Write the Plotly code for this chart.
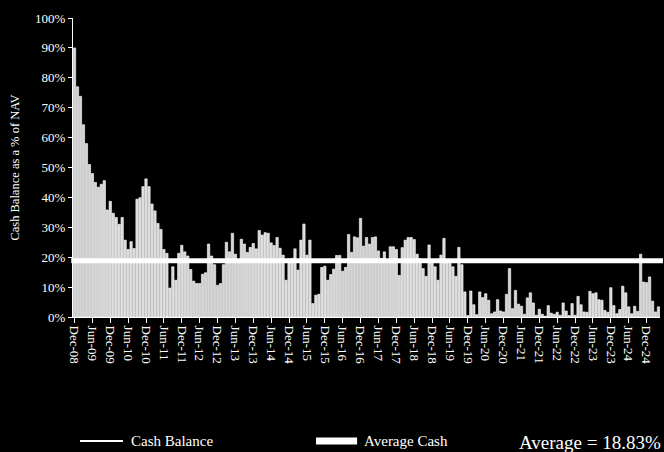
import pandas as pd
import plotly.graph_objects as go

# monthly cash balance, % of NAV, Dec-08 .. Apr-25
cash_pct = [
    90, 77, 73.8, 64.3, 58, 51, 48, 45, 43.4, 44.4, 45.6, 35.8,
    38.7, 34.7, 33.3, 31, 33.3, 25.7, 22.6, 25.2, 22.9, 39.4, 39.9, 43.6,
    46.2, 43.6, 37.8, 35.5, 31.3, 29.3, 22.6, 21.3, 9.7, 16.8, 12.3, 21.3,
    24, 21.8, 20.4, 15.9, 12, 11.2, 11.2, 14.3, 14.8, 24.4, 20.4, 17.5,
    10.6, 11.2, 17.5, 25, 21.8, 28, 21, 18.5, 26, 24.4, 21.6, 23.3,
    24.6, 22.8, 28.9, 27.4, 28.2, 28, 24.8, 23.9, 26.6, 23, 20.7, 12.3,
    19.4, 19.6, 22.8, 15.7, 25.7, 31.1, 20.7, 25.7, 4.5, 7.3, 7.6, 16.6,
    17, 12.3, 14.2, 16, 20.6, 20.6, 15.3, 16.6, 27.6, 21.6, 26.8, 26.5,
    33, 23.7, 26.6, 24.4, 26.6, 26.8, 22.1, 19.6, 21.8, 18, 23.5, 23.5,
    22.6, 13.9, 23.2, 25.7, 26.6, 26.6, 25.9, 21, 19.5, 16.2, 13.6, 24.1,
    19, 16.8, 12.3, 20.7, 26.3, 19.2, 18, 16.8, 13.6, 23.3, 17.5, 8.4,
    0.5, 8.7, 4.1, 0.8, 8.4, 6.5, 7.8, 5.6, 1.1, 1.7, 5.8, 2.0,
    1.7, 7.6, 16.2, 2.8, 8.9, 4.3, 3.6, 0.9, 6.4, 8.1, 4.7, 0.6,
    2.6, 0.9, 0.3, 3.8, 1.3, 0.9, 1.6, 0.6, 4.7, 2.0, 0.5, 4.5,
    0.6, 6.9, 4.1, 1.7, 1.6, 8.6, 7.8, 8.1, 5.8, 5.6, 2.2, 1.6,
    9.8, 3.8, 1.1, 2.5, 10.3, 8.1, 3.4, 1.1, 3.6, 1.9, 21, 11.7,
    11.5, 13.4, 5.3, 1.7, 3.4,
]
months = list(pd.date_range('2008-12-01', periods=len(cash_pct), freq='MS').strftime('%b-%y'))
tick_labels = ['Dec-08', 'Jun-09', 'Dec-09', 'Jun-10', 'Dec-10', 'Jun-11', 'Dec-11', 'Jun-12',
               'Dec-12', 'Jun-13', 'Dec-13', 'Jun-14', 'Dec-14', 'Jun-15', 'Dec-15', 'Jun-16',
               'Dec-16', 'Jun-17', 'Dec-17', 'Jun-18', 'Dec-18', 'Jun-19', 'Dec-19', 'Jun-20',
               'Dec-20', 'Jun-21', 'Dec-21', 'Jun-22', 'Dec-22', 'Jun-23', 'Dec-23', 'Jun-24',
               'Dec-24']
avg_cash = 18.83

serif = 'Liberation Serif'

fig = go.Figure()
fig.add_trace(go.Bar(x=months, y=cash_pct, name='Cash Balance', showlegend=False,
                     marker=dict(color='#d6d6d6', line=dict(color='white', width=0.6))))

# average line across the plot
fig.add_shape(type='line', xref='paper', yref='y', x0=-0.003, x1=1.005, y0=avg_cash, y1=avg_cash,
              line=dict(color='white', width=5), layer='above')

# hand-drawn legend under the axis
ly = -0.415
fig.add_shape(type='line', xref='paper', yref='paper', x0=0.012, x1=0.085, y0=ly, y1=ly,
              line=dict(color='white', width=2))
fig.add_shape(type='line', xref='paper', yref='paper', x0=0.414, x1=0.484, y0=ly, y1=ly,
              line=dict(color='white', width=7))
fig.add_annotation(text='Cash Balance', xref='paper', yref='paper', x=0.095, y=ly,
                   xanchor='left', yanchor='middle', showarrow=False,
                   font=dict(family=serif, size=15, color='white'))
fig.add_annotation(text='Average Cash', xref='paper', yref='paper', x=0.492, y=ly,
                   xanchor='left', yanchor='middle', showarrow=False,
                   font=dict(family=serif, size=15, color='white'))
fig.add_annotation(text='Average = %.2f%%' % avg_cash, xref='paper', yref='paper', x=1.005, y=ly - 0.005,
                   xanchor='right', yanchor='middle', showarrow=False,
                   font=dict(family=serif, size=19, color='white'))

fig.update_layout(
    width=664, height=452,
    paper_bgcolor='black', plot_bgcolor='black',
    margin=dict(l=73, r=4, t=18, b=135),
    bargap=0.2,
    font=dict(family=serif, color='white'),
    showlegend=False,
    xaxis=dict(type='category', tickmode='array', tickvals=tick_labels, ticktext=tick_labels,
               tickangle=90, tickfont=dict(family=serif, size=13, color='white'),
               showline=True, linecolor='white', linewidth=1, ticks='outside', ticklen=5,
               tickcolor='white', showgrid=False, zeroline=False),
    yaxis=dict(range=[0, 100], dtick=10, ticksuffix='%', tickfont=dict(family=serif, size=13, color='white'),
               showline=True, linecolor='white', linewidth=1, ticks='outside', ticklen=4,
               tickcolor='white', showgrid=False, zeroline=False,
               title=dict(text='Cash Balance as a % of NAV', font=dict(family=serif, size=12.5, color='white'),
                          standoff=12)),
)

fig.write_html('out.html', config={'displayModeBar': False},
               post_script="document.body.style.margin='0';document.body.style.background='black';")
